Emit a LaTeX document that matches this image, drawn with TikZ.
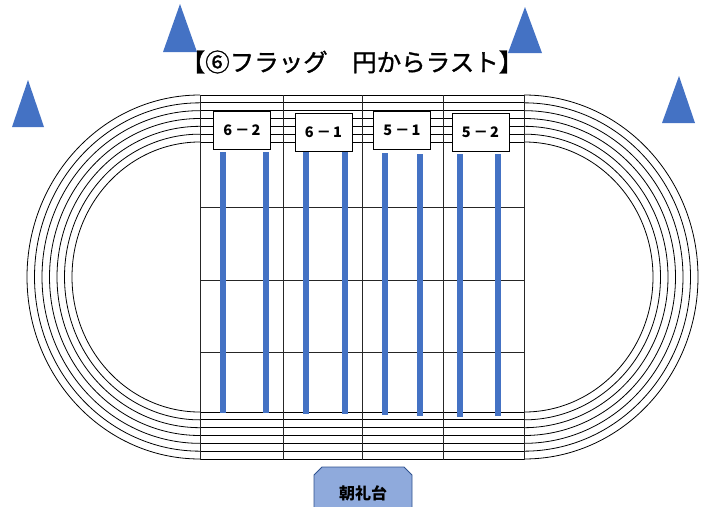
\documentclass[tikz,border=0pt]{standalone}
\usepackage{fontspec}
\newfontfamily\jp{Noto Sans CJK JP}
\newfontfamily\jpmed{Noto Sans CJK JP}[FakeBold=1.2]
\definecolor{flagblue}{HTML}{4472C4}
\definecolor{standfill}{HTML}{8FAADC}
\definecolor{standline}{HTML}{2F528F}
\tikzset{
  trackline/.style={line width=0.8pt, black},
  gridline/.style={line width=0.8pt, black!85},
  cone/.style={fill=flagblue, draw=none},
  flagbar/.style={fill=flagblue, draw=none},
  classbox/.style={draw=black, line width=0.8pt, fill=white, minimum width=57pt, minimum height=38pt, inner sep=0pt, font=\jp\bfseries\fontsize{14.5}{14.5}\selectfont},
}
\newcommand{\cls}[2]{#1\hspace{3pt}－\hspace{2pt}#2}
\begin{document}
\begin{tikzpicture}[x=1pt,y=1pt]
\useasboundingbox (0,0) rectangle (709,-506);
% cones
\fill[cone] (180,-4) -- (197,-52) -- (163,-52) -- cycle;
\fill[cone] (525,-7) -- (542,-53) -- (508,-53) -- cycle;
\fill[cone] (28,-80) -- (44,-127) -- (12,-127) -- cycle;
\fill[cone] (679,-76) -- (695,-123) -- (662,-123) -- cycle;
% title
\node[font=\jpmed\fontsize{24.5}{24.5}\selectfont, inner sep=0pt] (title) at (352,-62) {【⑥フラッグ　円からラスト】};
% track lanes
\foreach \i in {0,...,6}{
  \pgfmathsetmacro{\yt}{95+7.83*\i}
  \pgfmathsetmacro{\yb}{459-7.83*\i}
  \pgfmathsetmacro{\ry}{182-7.83*\i}
  \pgfmathsetmacro{\rxl}{173-7.5*\i}
  \pgfmathsetmacro{\rxr}{174-7.5*\i}
  \draw[trackline] (200,-\yt) -- (524,-\yt);
  \draw[trackline] (200,-\yb) -- (524,-\yb);
  \draw[trackline] (200,-\yt) arc[start angle=90, end angle=270, x radius=\rxl pt, y radius=\ry pt];
  \draw[trackline] (524,-\yt) arc[start angle=90, end angle=-90, x radius=\rxr pt, y radius=\ry pt];
}
% field grid
\foreach \x in {200,283,362,443,524}{
  \draw[gridline] (\x,-95) -- (\x,-460);
}
\foreach \y in {207,280,352}{
  \draw[gridline] (200,-\y) -- (524,-\y);
}
% flag bars
\foreach \x/\t/\b in {223/152/413, 266/152/413, 306/152/414, 345/152/414, 385/153/415, 420/154/416, 460/154/417, 498/154/416}{
  \fill[flagbar] (\x-3,-\t) rectangle (\x+3,-\b);
}
% class boxes
\node[classbox] (c62) at (242,-130) {\cls{6}{2}};
\node[classbox] (c61) at (323.5,-132) {\cls{6}{1}};
\node[classbox] (c51) at (402,-130) {\cls{5}{1}};
\node[classbox] (c52) at (480.5,-132) {\cls{5}{2}};
% stand
\fill[standfill] (314,-507) -- (314,-475) -- (322,-467) -- (404,-467) -- (412,-475) -- (412,-507) -- cycle;
\draw[standline, line width=0.8pt] (314,-507) -- (314,-475) -- (322,-467) -- (404,-467) -- (412,-475) -- (412,-507);
\node[font=\jp\bfseries\fontsize{16}{16}\selectfont, inner sep=0pt] (stand) at (363,-493) {朝礼台};
\end{tikzpicture}
\end{document}
